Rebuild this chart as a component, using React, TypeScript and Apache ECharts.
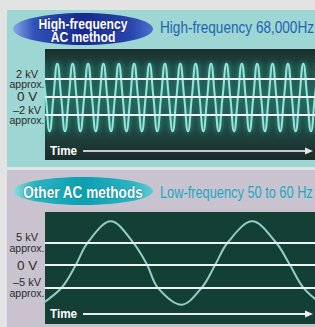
import React, { useEffect, useRef } from "react";
import * as echarts from "echarts";

// High-frequency wave: voltage (kV) sampled at each peak / zero crossing / trough (quarter-period steps)
const hfVoltage = [
  3.7, 0, -3.8, 0, 3.7, 0, -3.8, 0, 3.7, 0, -3.8, 0, 3.7, 0, -3.8, 0,
  3.7, 0, -3.8, 0, 3.7, 0, -3.8, 0, 3.7, 0, -3.8, 0, 3.7, 0, -3.8, 0,
  3.7, 0, -3.8, 0, 3.7, 0, -3.8, 0, 3.7, 0, -3.8, 0, 3.7, 0, -3.8, 0,
  3.7, 0, -3.8, 0, 3.7, 0, -3.8, 0, 3.7, 0, -3.8, 0, 3.7, 0, -3.8, 0,
  3.7, 0, -3.8, 0, 3.7, 0, -3.8, 0, 3.7,
];
// Low-frequency wave: time (ms) and voltage (kV) at troughs, ±5 kV crossings, zero crossings and peaks
const lfTime = [-0.6, 2.4, 4.4, 6.1, 9.4, 12.6, 14.6, 16.1, 19.5, 22.4, 24.3, 26.1, 29.6, 33.0, 35.0, 36.9, 39.6];
const lfVoltage = [-8.8, -5, 0, 5, 9.7, 5, 0, -5, -8.8, -5, 0, 5, 9.7, 5, 0, -5, -8.8];

const hfRefLines = [2, 0, -2];
const lfRefLines = [5, 0, -5];
const hfLabels: Record<string, string> = { "2": "2 kV", "0": "0 V", "-2": "–2 kV" };
const lfLabels: Record<string, string> = { "5": "5 kV", "0": "0 V", "-5": "–5 kV" };

const FONT = "'Liberation Sans', Arial, Helvetica, sans-serif";

export default function App() {
  const ref = useRef<HTMLDivElement>(null);
  useEffect(() => {
    if (!ref.current) return;
    const chart = echarts.init(ref.current, undefined, { renderer: "svg" });

    const labelFormatter = (map: Record<string, string>) => (v: number) => {
      const key = String(v);
      if (v === 0) return `{z|${map[key]}}`;
      return `{v|${map[key]}}\n{a|approx.}`;
    };
    const rich = {
      v: { fontFamily: FONT, fontSize: 11, color: "#2b2b2b", lineHeight: 10.5, align: "center" },
      a: { fontFamily: FONT, fontSize: 10.5, color: "#2b2b2b", lineHeight: 10.5, align: "center" },
      z: { fontFamily: FONT, fontSize: 13.5, color: "#2b2b2b", lineHeight: 13, align: "center" },
    };

    const condensedText = (x: number, y: number, text: string, font: string, fill: string, extra: any = {}) => ({
      type: "text", z: 5, x, y, scaleX: extra.scaleX ?? 0.8,
      style: {
        text, fill, font, textVerticalAlign: "middle",
        textAlign: extra.align ?? "left",
        lineHeight: extra.lineHeight,
        stroke: extra.stroke, lineWidth: extra.lineWidth,
      },
    });

    const option: any = {
      animation: false,
      backgroundColor: "#e1e4e3",
      grid: [
        { left: 45, top: 49, width: 270, height: 111 },
        { left: 45, top: 212, width: 270, height: 112 },
      ],
      xAxis: [
        { type: "value", gridIndex: 0, min: 0.8, max: 71.04, show: false },
        { type: "value", gridIndex: 1, min: 0, max: 38.57, show: false },
      ],
      yAxis: [
        {
          type: "value", gridIndex: 0, min: -7, max: 5.33,
          axisLine: { show: false }, axisTick: { show: false }, splitLine: { show: false },
          axisLabel: {
            customValues: hfRefLines, formatter: labelFormatter(hfLabels), hideOverlap: false,
            margin: 18, align: "center", rich,
          },
        },
        {
          type: "value", gridIndex: 1, min: -13.1, max: 11.78,
          axisLine: { show: false }, axisTick: { show: false }, splitLine: { show: false },
          axisLabel: {
            customValues: lfRefLines, formatter: labelFormatter(lfLabels), hideOverlap: false,
            margin: 18, align: "center", rich,
          },
        },
      ],
      series: [
        {
          type: "line", xAxisIndex: 0, yAxisIndex: 0, smooth: 0.5, symbol: "none",
          data: hfVoltage.map((v, i) => [i, v]),
          lineStyle: { color: "#95e6d9", width: 2, shadowBlur: 6, shadowColor: "#36c4b1" },
          markLine: {
            silent: true, symbol: ["none", "none"], label: { show: false },
            lineStyle: { color: "#eef5f2", width: 2, type: "solid" },
            data: hfRefLines.map((y) => ({ yAxis: y })),
          },
        },
        {
          type: "line", xAxisIndex: 1, yAxisIndex: 1, smooth: 0.35, symbol: "none",
          data: lfTime.map((t, i) => [t, lfVoltage[i]]),
          lineStyle: { color: "#92cfc6", width: 2 },
          markLine: {
            silent: true, symbol: ["none", "none"], label: { show: false },
            lineStyle: { color: "#eef5f2", width: 2, type: "solid" },
            data: lfRefLines.map((y) => ({ yAxis: y })),
          },
        },
      ],
      graphic: [
        { type: "rect", z: -10, shape: { x: 7, y: 10, width: 308, height: 157 }, style: { fill: "#9dd6d2" } },
        { type: "rect", z: -10, shape: { x: 7, y: 170, width: 308, height: 157 }, style: { fill: "#c9c3cf" } },
        {
          type: "rect", z: -9, shape: { x: 45, y: 49, width: 270, height: 111 },
          style: {
            fill: {
              type: "linear", x: 0, y: 0, x2: 0, y2: 1,
              colorStops: [
                { offset: 0, color: "#1a2d2b" },
                { offset: 0.15, color: "#1f4541" },
                { offset: 0.5, color: "#204a45" },
                { offset: 0.8, color: "#1e403c" },
                { offset: 1, color: "#1a2b29" },
              ],
            },
          },
        },
        { type: "rect", z: -9, shape: { x: 45, y: 212, width: 270, height: 112 }, style: { fill: "#143f35" } },
        // badges
        {
          type: "ellipse", z: -8, shape: { cx: 83, cy: 29, rx: 70, ry: 16 },
          style: {
            fill: {
              type: "linear", x: 0, y: 0, x2: 1, y2: 0,
              colorStops: [
                { offset: 0, color: "#8aa6ea" },
                { offset: 0.15, color: "#3052b8" },
                { offset: 0.5, color: "#17298c" },
                { offset: 0.85, color: "#2a47ad" },
                { offset: 1, color: "#4d6fd0" },
              ],
            },
          },
        },
        condensedText(83, 30.5, "High-frequency\nAC method", `bold 15px ${FONT}`, "#ffffff",
          { align: "center", lineHeight: 13, stroke: "#1b2c8a", lineWidth: 1.5, scaleX: 0.81 }),
        condensedText(160, 27, "High-frequency 68,000Hz", `17px ${FONT}`, "#1f63b2", { scaleX: 0.8 }),
        {
          type: "ellipse", z: -8, shape: { cx: 83, cy: 191, rx: 70, ry: 14 },
          style: {
            fill: {
              type: "linear", x: 0, y: 0, x2: 1, y2: 0,
              colorStops: [
                { offset: 0, color: "#8fdbe2" },
                { offset: 0.15, color: "#2bb4c2" },
                { offset: 0.5, color: "#0a9fb1" },
                { offset: 0.85, color: "#2cb3c1" },
                { offset: 1, color: "#5fcad5" },
              ],
            },
          },
        },
        condensedText(83, 192, "Other AC methods", `bold 17px ${FONT}`, "#ffffff",
          { align: "center", stroke: "#0b8797", lineWidth: 1.2, scaleX: 0.8 }),
        condensedText(160, 192, "Low-frequency 50 to 60 Hz", `16px ${FONT}`, "#1aa7c2", { scaleX: 0.8 }),
        // time arrows
        condensedText(50, 151, "Time", `bold 13px ${FONT}`, "#ffffff", { scaleX: 0.9 }),
        { type: "line", z: 5, shape: { x1: 83, y1: 151, x2: 308, y2: 151 }, style: { stroke: "#c9cccb", lineWidth: 2 } },
        { type: "polygon", z: 5, shape: { points: [[305, 147.5], [313, 151], [305, 154.5]] }, style: { fill: "#e6e8e7" } },
        condensedText(50, 314, "Time", `bold 13px ${FONT}`, "#ffffff", { scaleX: 0.9 }),
        { type: "line", z: 5, shape: { x1: 83, y1: 314, x2: 308, y2: 314 }, style: { stroke: "#e8ecea", lineWidth: 2 } },
        { type: "polygon", z: 5, shape: { points: [[305, 310.5], [313, 314], [305, 317.5]] }, style: { fill: "#f2f4f3" } },
      ],
    };
    chart.setOption(option);
    return () => chart.dispose();
  }, []);
  return <div ref={ref} style={{ position: "fixed", left: 0, top: 0, width: 315, height: 327 }} />;
}
